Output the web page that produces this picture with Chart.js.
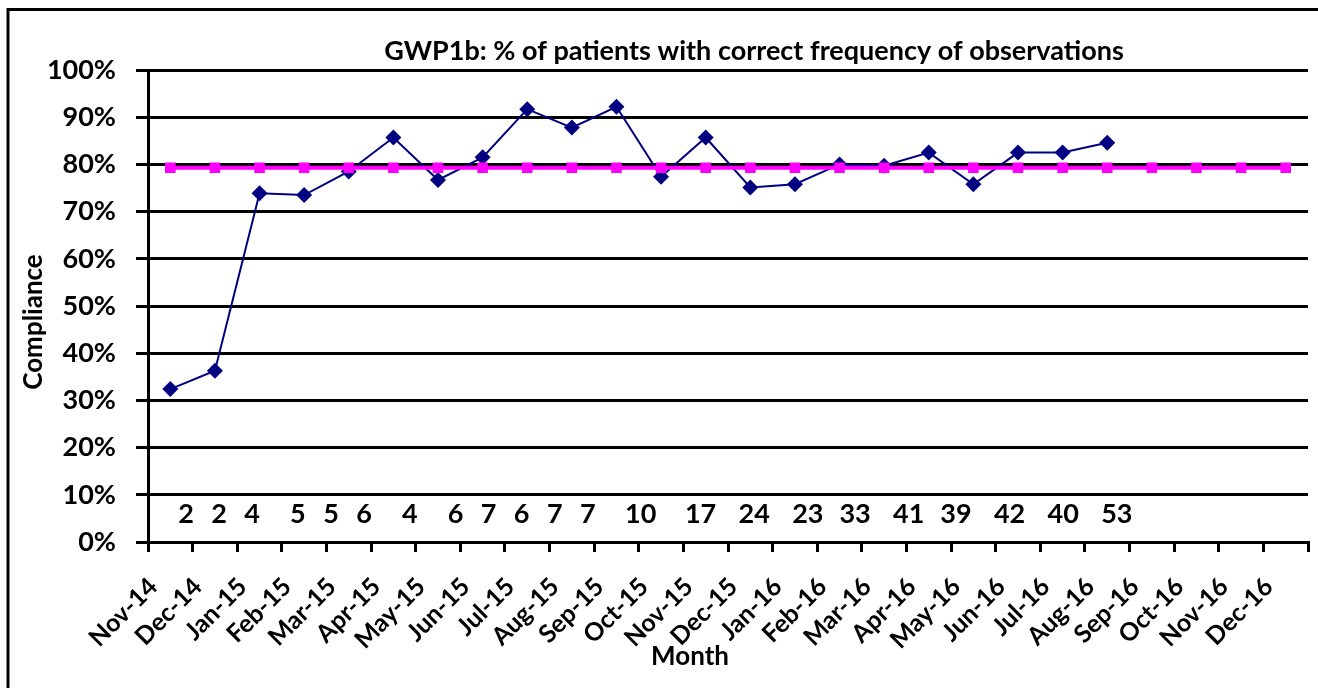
<!DOCTYPE html>
<html>
<head>
<meta charset="utf-8">
<title>GWP1b compliance</title>
<script src="https://cdn.jsdelivr.net/npm/chart.js@4.4.0/dist/chart.umd.min.js"></script>
<style>
  html, body { margin: 0; padding: 0; background: #fff; }
  #wrap { position: relative; width: 1318px; height: 688px; overflow: hidden; }
</style>
</head>
<body>
<div id="wrap"><canvas id="chart" width="1318" height="688"></canvas></div>
<script>
/* GWP1b — % of patients with correct frequency of observations (run chart) */

// ── Data ─────────────────────────────────────────────────────────────────────
var months = ['Nov-14', 'Dec-14', 'Jan-15', 'Feb-15', 'Mar-15', 'Apr-15', 'May-15',
  'Jun-15', 'Jul-15', 'Aug-15', 'Sep-15', 'Oct-15', 'Nov-15', 'Dec-15', 'Jan-16',
  'Feb-16', 'Mar-16', 'Apr-16', 'May-16', 'Jun-16', 'Jul-16', 'Aug-16', 'Sep-16',
  'Oct-16', 'Nov-16', 'Dec-16'];

// % compliance per month (no data yet from Sep-16)
var compliance = [32.4, 36.3, 73.9, 73.5, 78.5, 85.7, 76.7, 81.5, 91.7, 87.8, 92.2,
  77.4, 85.7, 75.1, 75.8, 80.0, 79.7, 82.5, 75.8, 82.5, 82.5, 84.6,
  null, null, null, null];

// target line
var target = [79.3, 79.3, 79.3, 79.3, 79.3, 79.3, 79.3, 79.3, 79.3, 79.3, 79.3, 79.3,
  79.3, 79.3, 79.3, 79.3, 79.3, 79.3, 79.3, 79.3, 79.3, 79.3, 79.3, 79.3, 79.3, 79.3];

// number of patients audited each month (typed row inside the plot)
var patients = [2, 2, 4, 5, 5, 6, 4, 6, 7, 6, 7, 7, 10, 17, 24, 23, 33, 41, 39, 42, 40, 53];
// spaces typed between the numbers in that row
var patientGaps = [3, 3, 5, 3, 3, 5, 5, 3, 3, 3, 3, 5, 5, 4, 4, 3, 4, 3, 4, 4, 4];

var yTicks = [0, 10, 20, 30, 40, 50, 60, 70, 80, 90, 100];

// ── Helpers ──────────────────────────────────────────────────────────────────
var FONT = 'Lato, "Open Sans", sans-serif';
var DIGIT_W = 14.2, SPACE_W = 6.3;

var framePlugin = {
  id: 'frame',
  beforeDraw: function (chart) {
    var ctx = chart.ctx;
    ctx.save();
    ctx.fillStyle = '#fff';
    ctx.fillRect(0, 0, chart.width, chart.height);
    ctx.strokeStyle = '#000';
    ctx.lineWidth = 3;
    ctx.beginPath();
    ctx.moveTo(8, chart.height);
    ctx.lineTo(8, 9.5);
    ctx.lineTo(chart.width, 9.5);
    ctx.stroke();
    ctx.restore();
  }
};

var textPlugin = {
  id: 'texts',
  afterDatasetsDraw: function (chart) {
    var ctx = chart.ctx, area = chart.chartArea;
    ctx.save();
    ctx.fillStyle = '#000';

    // title
    ctx.font = 'bold 27px ' + FONT;
    ctx.textAlign = 'center';
    ctx.textBaseline = 'alphabetic';
    ctx.fillText('GWP1b: % of patients with correct frequency of observations', 754, 60);

    // axis titles
    ctx.font = 'bold 26px ' + FONT;
    ctx.fillText('Month', 690, 665);
    ctx.save();
    ctx.translate(34, 322);
    ctx.rotate(-Math.PI / 2);
    ctx.textBaseline = 'middle';
    ctx.fillText('Compliance', 0, 0);
    ctx.restore();

    // patient counts row
    ctx.font = 'bold 27px ' + FONT;
    ctx.textAlign = 'center';
    ctx.textBaseline = 'alphabetic';
    var y = area.bottom - 19;
    var cx = area.left + 38, prevW = 0;
    patients.forEach(function (n, i) {
      var w = String(n).length * DIGIT_W;
      if (i > 0) cx += prevW / 2 + patientGaps[i - 1] * SPACE_W + w / 2;
      ctx.fillText(String(n), cx, y);
      prevW = w;
    });
    ctx.restore();
  }
};

// ── Chart ────────────────────────────────────────────────────────────────────
new Chart(document.getElementById('chart').getContext('2d'), {
  type: 'line',
  data: {
    labels: months,
    datasets: [{
      label: 'Target',
      data: target,
      order: 0,
      borderColor: '#FF00FF',
      backgroundColor: '#FF00FF',
      borderWidth: 4,
      pointStyle: 'rect',
      pointRadius: 7.5,
      pointBorderWidth: 0,
      tension: 0
    }, {
      label: 'Compliance',
      data: compliance,
      order: 1,
      borderColor: '#000080',
      backgroundColor: '#000080',
      borderWidth: 2,
      pointStyle: 'rectRot',
      pointRadius: 8,
      pointBorderWidth: 0,
      tension: 0
    }]
  },
  options: {
    responsive: false,
    animation: false,
    events: [],
    layout: { padding: { top: 70, right: 10, left: 0, bottom: 0 } },
    plugins: {
      legend: { display: false },
      tooltip: { enabled: false },
      title: { display: false }
    },
    scales: {
      x: {
        offset: true,
        grid: {
          offset: true,
          drawOnChartArea: false,
          drawTicks: true,
          tickLength: 10,
          color: '#000',
          lineWidth: 3
        },
        border: { color: '#000', width: 3 },
        ticks: {
          autoSkip: false,
          maxRotation: 45,
          minRotation: 45,
          labelOffset: -17,
          padding: 20,
          color: '#000',
          font: { family: FONT, size: 25, weight: 'bold' }
        },
        afterFit: function (scale) {
          scale.height = 146;
          scale.paddingLeft = 0;
          scale.paddingRight = 0;
        }
      },
      y: {
        min: 0,
        max: 100,
        afterBuildTicks: function (scale) {
          scale.ticks = yTicks.map(function (v) { return { value: v }; });
        },
        grid: {
          color: '#000',
          lineWidth: 3,
          tickLength: 12,
          drawTicks: true
        },
        border: { color: '#000', width: 3 },
        ticks: {
          padding: 20,
          color: '#000',
          font: { family: FONT, size: 27, weight: 'bold' },
          callback: function (v) { return v + '%'; }
        },
        afterFit: function (scale) {
          scale.width = 148;
          scale.paddingTop = 0;
          scale.paddingBottom = 0;
        }
      }
    }
  },
  plugins: [framePlugin, textPlugin]
});
</script>
</body>
</html>
